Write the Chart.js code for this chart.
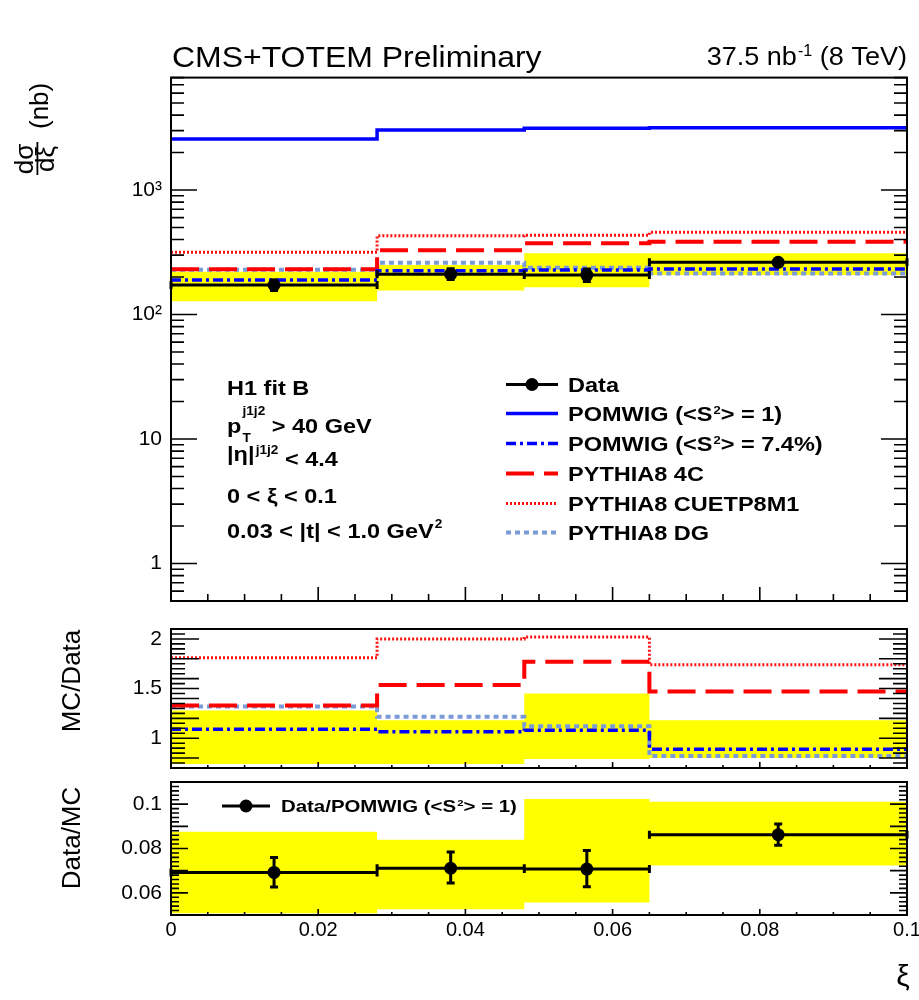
<!DOCTYPE html>
<html><head><meta charset="utf-8">
<script src="https://cdn.jsdelivr.net/npm/chart.js@4/dist/chart.umd.min.js"></script>
<style>
html,body{margin:0;padding:0;background:#fff;overflow:hidden}
#wrap{position:relative;width:919px;height:1000px;background:#fff}
canvas{position:absolute;left:0;top:0}
</style></head><body><div id="wrap">
<canvas id="cTop" width="919" height="1000"></canvas>
<canvas id="cMid" width="919" height="1000"></canvas>
<canvas id="cBot" width="919" height="1000"></canvas>
</div>
<script>
// ---------------- data ----------------
const binEdges = [0, 0.028, 0.048, 0.065, 0.1];
// top panel: d sigma / d xi (nb)
const dataXsec   = [172.6, 211, 207.6, 262.6];
const dataStatLo = [156, 191, 184, 248];
const dataStatHi = [189, 233, 232, 277];
const dataSystLo = [128, 156, 166, 208];
const dataSystHi = [221, 250, 310, 310];
const pomwigFull     = [2570, 3040, 3130, 3165];
const pomwigGap      = [189, 225, 228, 232];
const pythia4C       = [231, 328, 373, 384];
const pythiaCUETP8M1 = [316, 430, 433, 457];
const pythiaDG       = [229, 261, 238, 214];
// middle panel: MC / Data
const ratioPomwigGap = [1.09, 1.064, 1.08, 0.89];
const ratio4C        = [1.33, 1.535, 1.77, 1.47];
const ratioCUETP8M1  = [1.81, 2.0, 2.02, 1.74];
const ratioDG        = [1.32, 1.215, 1.12, 0.82];
const ratioBandLo    = [0.74, 0.74, 0.79, 0.80];
const ratioBandHi    = [1.28, 1.18, 1.45, 1.18];
// bottom panel: Data / POMWIG
const dmcValue  = [0.0692, 0.0711, 0.0707, 0.0862];
const dmcStatLo = [0.0626, 0.0644, 0.0628, 0.0815];
const dmcStatHi = [0.0759, 0.0784, 0.0791, 0.0911];
const dmcSystLo = [0.0508, 0.0526, 0.0556, 0.0723];
const dmcSystHi = [0.0876, 0.0839, 0.1023, 0.1011];
// tick labels
const xTickValues   = [0, 0.02, 0.04, 0.06, 0.08, 0.1];
const xTickLabels   = ['0', '0.02', '0.04', '0.06', '0.08', '0.1'];
const topTickValues = [1, 10, 100, 1000];
const topTickLabels = ['1', '10', '10²', '10³'];
const midTickValues = [1, 1.5, 2];
const midTickLabels = ['1', '1.5', '2'];
const botTickValues = [0.06, 0.08, 0.1];
const botTickLabels = ['0.06', '0.08', '0.1'];
// texts
const legendLabels = ['Data', 'POMWIG (<S^{2}> = 1)', 'POMWIG (<S^{2}> = 7.4%)', 'PYTHIA8 4C', 'PYTHIA8 CUETP8M1', 'PYTHIA8 DG'];
const ratioLegendLabel = 'Data/POMWIG (<S^{2}> = 1)';

// ---------------- helpers ----------------
const FONT = '"Liberation Sans", Arial, Helvetica, sans-serif';
const binCenters = dataXsec.map((_, i) => (binEdges[i] + binEdges[i + 1]) / 2);
function stepPts(vals) {
  const p = vals.map((v, i) => ({ x: binEdges[i], y: v }));
  p.push({ x: binEdges[binEdges.length - 1], y: vals[vals.length - 1] });
  return p;
}
function centerPts(vals) { return vals.map((v, i) => ({ x: binCenters[i], y: v })); }

function richTokens(str) {
  return str.split(/(\^\{[^}]*\}|_\{[^}]*\})/).filter(s => s.length).map(s => {
    if (s.startsWith('^{')) return { t: s.slice(2, -1), k: 'sup' };
    if (s.startsWith('_{')) return { t: s.slice(2, -1), k: 'sub' };
    return { t: s, k: 'n' };
  });
}
function drawRich(ctx, str, x, y, size, o = {}) {
  const bold = o.bold ? 'bold ' : '';
  const sx = o.sx || 1, supF = o.supF || 0.58;
  const supDy = o.supDy !== undefined ? o.supDy : -0.42 * size;
  const subDy = o.subDy !== undefined ? o.subDy : 0.3 * size;
  const toks = richTokens(str);
  let w = 0, stackStart = 0, stackW = 0, prevScript = false;
  const items = [];
  for (const tk of toks) {
    const s = tk.k === 'n' ? size : size * supF;
    ctx.font = bold + s + 'px ' + FONT;
    const tw = ctx.measureText(tk.t).width;
    if (tk.k === 'n') {
      items.push({ tk, x: w, s, dy: 0 }); w += tw; prevScript = false;
    } else {
      if (!prevScript) { stackStart = w; stackW = 0; }
      items.push({ tk, x: stackStart + 1, s, dy: tk.k === 'sup' ? supDy : subDy });
      stackW = Math.max(stackW, tw + 1); w = stackStart + stackW; prevScript = true;
    }
  }
  let off = 0;
  if (o.align === 'right') off = -w * sx;
  else if (o.align === 'center') off = -w * sx / 2;
  ctx.save();
  ctx.fillStyle = o.color || '#000';
  ctx.textBaseline = 'alphabetic'; ctx.textAlign = 'left';
  ctx.translate(x, y);
  if (o.rotate) ctx.rotate(o.rotate);
  ctx.translate(off, 0);
  ctx.scale(sx, 1);
  for (const it of items) {
    ctx.font = bold + it.s + 'px ' + FONT;
    ctx.fillText(it.tk.t, it.x, it.dy);
  }
  ctx.restore();
  return w * sx;
}

function drawDataBars(chart, vals, lo, hi) {
  const { ctx, scales: { x, y } } = chart;
  ctx.save();
  ctx.strokeStyle = '#000'; ctx.lineWidth = 3; ctx.setLineDash([]);
  ctx.beginPath();
  for (let i = 0; i < vals.length; i++) {
    const x0 = x.getPixelForValue(binEdges[i]), x1 = x.getPixelForValue(binEdges[i + 1]);
    const xc = x.getPixelForValue(binCenters[i]);
    const yv = y.getPixelForValue(vals[i]);
    const yl = y.getPixelForValue(lo[i]), yh = y.getPixelForValue(hi[i]);
    ctx.moveTo(x0, yv); ctx.lineTo(x1, yv);
    ctx.moveTo(x0, yv - 4); ctx.lineTo(x0, yv + 4);
    ctx.moveTo(x1, yv - 4); ctx.lineTo(x1, yv + 4);
    ctx.moveTo(xc, yl); ctx.lineTo(xc, yh);
    ctx.moveTo(xc - 4, yl); ctx.lineTo(xc + 4, yl);
    ctx.moveTo(xc - 4, yh); ctx.lineTo(xc + 4, yh);
  }
  ctx.stroke();
  ctx.restore();
}

function drawFrame(chart, yTicks, xTicks) {
  const { ctx, chartArea: a, scales: { x, y } } = chart;
  ctx.save();
  ctx.strokeStyle = '#000'; ctx.setLineDash([]); ctx.lineWidth = 1.6;
  ctx.beginPath();
  for (const t of yTicks) {
    const py = y.getPixelForValue(t.v);
    if (py < a.top - 0.5 || py > a.bottom + 0.5) continue;
    ctx.moveTo(a.left, py); ctx.lineTo(a.left + t.len, py);
    ctx.moveTo(a.right, py); ctx.lineTo(a.right - t.len, py);
  }
  for (const t of xTicks) {
    const px = x.getPixelForValue(t.v);
    ctx.moveTo(px, a.bottom); ctx.lineTo(px, a.bottom - t.len);
  }
  ctx.stroke();
  ctx.lineWidth = 2;
  ctx.strokeRect(a.left, a.top, a.right - a.left, a.bottom - a.top);
  ctx.restore();
}
function xTickList(major, minor) {
  const r = [];
  for (let i = 0; i <= 20; i++) r.push({ v: i * 0.005, len: i % 4 === 0 ? major : minor });
  return r;
}

const styles = {
  pomwigFull: { borderColor: '#0000ff', borderWidth: 3.5, borderDash: [] },
  pomwigGap:  { borderColor: '#0000ff', borderWidth: 3.5, borderDash: [10, 4, 3, 4] },
  p4C:        { borderColor: '#ff0000', borderWidth: 4, borderDash: [28, 10] },
  pCUET:      { borderColor: '#ff1010', borderWidth: 3, borderDash: [2, 2] },
  pDG:        { borderColor: '#7a9bd6', borderWidth: 4, borderDash: [5, 4] }
};
// 'before' in Chart.js: each segment keeps the previous point's value (histogram step)
function stepDs(vals, st) {
  return Object.assign({ type: 'line', data: stepPts(vals), stepped: 'before', pointRadius: 0, fill: false, borderCapStyle: 'butt' }, st);
}
function bandDs(lo, hi) {
  return [
    { type: 'line', data: stepPts(lo), stepped: 'before', pointRadius: 0, fill: false, borderColor: 'rgba(0,0,0,0)', borderWidth: 1 },
    { type: 'line', data: stepPts(hi), stepped: 'before', pointRadius: 0, fill: '-1', borderColor: 'rgba(0,0,0,0)', borderWidth: 1, backgroundColor: '#ffff00' }
  ];
}
function markerDs(vals) {
  return { type: 'line', data: centerPts(vals), showLine: false, pointRadius: 6.5, pointBackgroundColor: '#000', pointBorderColor: '#000', pointBorderWidth: 0 };
}
function yAxis(type, min, max, vals, labels, fontSize) {
  return {
    type, min, max, position: 'left',
    grid: { display: false, drawTicks: false }, border: { display: false },
    ticks: {
      autoSkip: false, color: '#000', padding: 9, font: { family: FONT, size: fontSize },
      callback: (v) => { const i = vals.findIndex(t => Math.abs(t - v) < 1e-9 * Math.max(1, Math.abs(t))); return i >= 0 ? labels[i] : ''; }
    },
    afterBuildTicks: (s) => { s.ticks = vals.map(v => ({ value: v })); },
    afterFit: (s) => { s.width = 171; s.paddingTop = 0; s.paddingBottom = 0; }
  };
}
function hiddenX() { return { type: 'linear', min: 0, max: 0.1, display: false }; }
const common = { responsive: false, animation: false, events: [], plugins: { legend: { display: false }, tooltip: { enabled: false } } };

// ---------------- top panel ----------------
const topTicks = [];
for (let e = -1; e <= 3; e++) for (let k = 1; k <= 9; k++) {
  const v = k * Math.pow(10, e);
  if (v >= 0.5 && v <= 8000) topTicks.push({ v, len: k === 1 ? 26 : 13 });
}
new Chart(document.getElementById('cTop'), {
  type: 'line',
  data: { datasets: [
    markerDs(dataXsec),
    stepDs(pomwigFull, styles.pomwigFull),
    stepDs(pomwigGap, styles.pomwigGap),
    stepDs(pythia4C, styles.p4C),
    stepDs(pythiaCUETP8M1, styles.pCUET),
    stepDs(pythiaDG, styles.pDG),
    ...bandDs(dataSystLo, dataSystHi)
  ] },
  options: Object.assign({}, common, {
    layout: { padding: { top: 77.6, bottom: 399, left: 0, right: 12 } },
    scales: { x: hiddenX(), y: yAxis('logarithmic', 0.5, 8000, topTickValues, topTickLabels, 21) }
  }),
  plugins: [{
    id: 'topDeco',
    beforeDatasetDraw(chart, args) { if (args.index === 0) drawDataBars(chart, dataXsec, dataStatLo, dataStatHi); },
    afterDraw(chart) {
      const ctx = chart.ctx;
      drawFrame(chart, topTicks, xTickList(14, 7));
      // header
      drawRich(ctx, 'CMS+TOTEM Preliminary', 172, 67, 30, { sx: 1.065 });
      drawRich(ctx, '37.5 nb^{-1} (8 TeV)', 907, 65, 26, { align: 'right', supDy: -9, supF: 0.6, sx: 1.04 });
      // y title (rotated)
      ctx.save();
      ctx.translate(0, 176); ctx.rotate(-Math.PI / 2);
      ctx.fillStyle = '#000'; ctx.textAlign = 'center';
      ctx.font = '26px ' + FONT;
      ctx.fillText('dσ', 17, 33);
      ctx.fillText('dξ', 17, 54);
      ctx.fillRect(1, 36.5, 33, 1.8);
      ctx.textAlign = 'left';
      ctx.font = '26px ' + FONT;
      ctx.fillText('(nb)', 47, 48);
      ctx.restore();
      // left info block
      const o = { bold: true, sx: 1.12 };
      drawRich(ctx, 'H1 fit B', 227, 395, 21, o);
      drawRich(ctx, 'p_{T}^{j1j2} > 40 GeV', 227, 433, 21, Object.assign({ supDy: -18, subDy: 9 }, o));
      let w = drawRich(ctx, '|η|^{j1j2}', 227, 461, 21, Object.assign({ supDy: -7 }, o));
      drawRich(ctx, ' < 4.4', 227 + w, 466, 21, o);
      drawRich(ctx, '0 < ξ < 0.1', 227, 503, 21, o);
      drawRich(ctx, '0.03 < |t| < 1.0 GeV^{2}', 227, 538, 21, Object.assign({ supDy: -10 }, o));
      // legend
      const ds = chart.data.datasets;
      const legendDs = [null, ds[1], ds[2], ds[3], ds[4], ds[5]];
      const baselines = [392, 421, 451, 481, 511, 540];
      for (let i = 0; i < legendLabels.length; i++) {
        const ly = baselines[i] - 7.5;
        ctx.save();
        if (i === 0) {
          ctx.strokeStyle = '#000'; ctx.lineWidth = 3; ctx.setLineDash([]);
          ctx.beginPath(); ctx.moveTo(506, ly); ctx.lineTo(558, ly); ctx.stroke();
          ctx.fillStyle = '#000'; ctx.beginPath(); ctx.arc(532, ly, 6.5, 0, Math.PI * 2); ctx.fill();
        } else {
          const d = legendDs[i];
          ctx.strokeStyle = d.borderColor; ctx.lineWidth = d.borderWidth; ctx.setLineDash(d.borderDash || []);
          ctx.beginPath(); ctx.moveTo(506, ly); ctx.lineTo(558, ly); ctx.stroke();
        }
        ctx.restore();
        drawRich(ctx, legendLabels[i], 568, baselines[i], 21, Object.assign({ supDy: -7, supF: 0.55 }, o));
      }
    }
  }]
});

// ---------------- middle panel ----------------
const midTicks = [];
for (let i = 14; i <= 42; i++) midTicks.push({ v: i * 0.05, len: (i % 4 === 0 || i % 10 === 0) ? 28 : 14 });
new Chart(document.getElementById('cMid'), {
  type: 'line',
  data: { datasets: [
    stepDs(ratioPomwigGap, styles.pomwigGap),
    stepDs(ratio4C, styles.p4C),
    stepDs(ratioCUETP8M1, styles.pCUET),
    stepDs(ratioDG, styles.pDG),
    ...bandDs(ratioBandLo, ratioBandHi)
  ] },
  options: Object.assign({}, common, {
    layout: { padding: { top: 629, bottom: 232, left: 0, right: 12 } },
    scales: { x: hiddenX(), y: yAxis('linear', 0.7, 2.1, midTickValues, midTickLabels, 21) }
  }),
  plugins: [{
    id: 'midDeco',
    afterDraw(chart) {
      drawFrame(chart, midTicks, xTickList(6, 3));
      drawRich(chart.ctx, 'MC/Data', 80, 681, 25, { align: 'center', rotate: -Math.PI / 2, sx: 1.04 });
    }
  }]
});

// ---------------- bottom panel ----------------
const botTicks = [];
for (let i = 25; i <= 55; i++) botTicks.push({ v: i * 0.002, len: i % 5 === 0 ? 17 : 8 });
new Chart(document.getElementById('cBot'), {
  type: 'line',
  data: { datasets: [
    markerDs(dmcValue),
    ...bandDs(dmcSystLo, dmcSystHi)
  ] },
  options: Object.assign({}, common, {
    layout: { padding: { top: 782, bottom: 45, left: 0, right: 12 } },
    scales: {
      x: {
        type: 'linear', min: 0, max: 0.1, position: 'bottom',
        grid: { display: false, drawTicks: false }, border: { display: false },
        ticks: {
          autoSkip: false, maxRotation: 0, minRotation: 0, color: '#000', padding: 3, font: { family: FONT, size: 20 },
          callback: (v) => { const i = xTickValues.findIndex(t => Math.abs(t - v) < 1e-9); return i >= 0 ? xTickLabels[i] : ''; }
        },
        afterBuildTicks: (s) => { s.ticks = xTickValues.map(v => ({ value: v })); },
        afterFit: (s) => { s.height = 40; s.paddingLeft = 0; s.paddingRight = 0; }
      },
      y: yAxis('linear', 0.05, 0.11, botTickValues, botTickLabels, 21)
    }
  }),
  plugins: [{
    id: 'botDeco',
    beforeDatasetDraw(chart, args) { if (args.index === 0) drawDataBars(chart, dmcValue, dmcStatLo, dmcStatHi); },
    afterDraw(chart) {
      const ctx = chart.ctx;
      drawFrame(chart, botTicks, xTickList(6, 3));
      drawRich(ctx, 'Data/MC', 80, 838, 25, { align: 'center', rotate: -Math.PI / 2, sx: 1.04 });
      // legend
      ctx.save();
      ctx.strokeStyle = '#000'; ctx.lineWidth = 3; ctx.setLineDash([]);
      ctx.beginPath(); ctx.moveTo(222, 806); ctx.lineTo(270, 806); ctx.stroke();
      ctx.fillStyle = '#000'; ctx.beginPath(); ctx.arc(246, 806, 6.5, 0, Math.PI * 2); ctx.fill();
      ctx.restore();
      drawRich(ctx, ratioLegendLabel, 281, 812, 17, { bold: true, sx: 1.2, supDy: -6, supF: 0.55 });
      // x title
      drawRich(ctx, 'ξ', 903, 986, 30, { align: 'center' });
    }
  }]
});
</script>
</body></html>
